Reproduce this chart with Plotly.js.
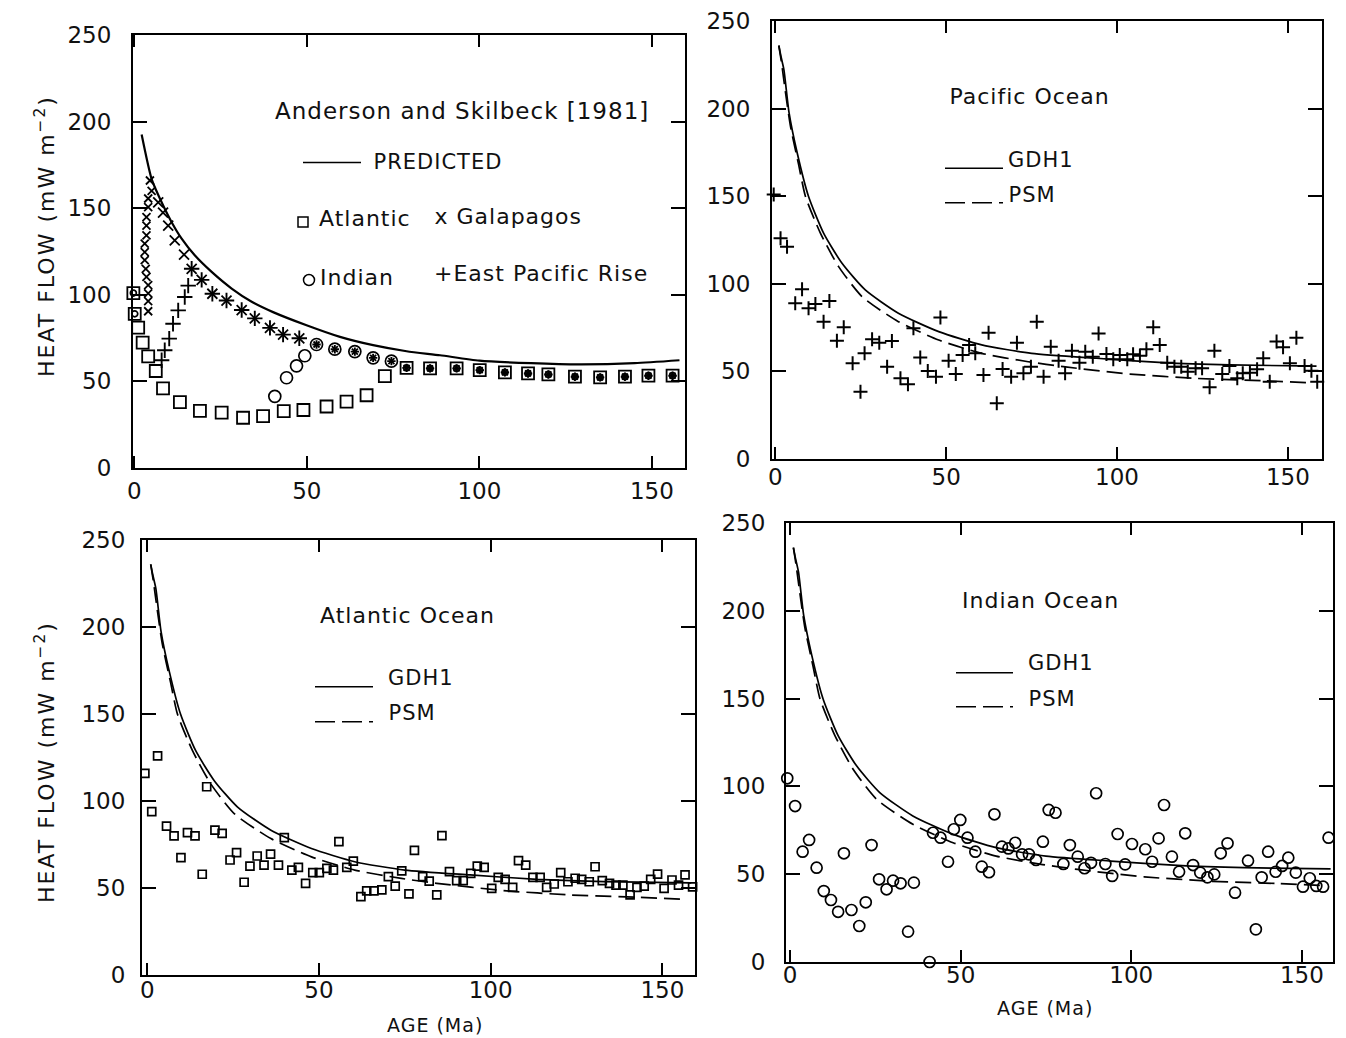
<!DOCTYPE html>
<html><head><meta charset="utf-8">
<script src="https://cdn.plot.ly/plotly-3.0.1.min.js"></script>
<style>
html,body{margin:0;padding:0;background:#fff;}
#chart{width:1346px;height:1038px;}
.annotation text{letter-spacing:1px;}
.annotation[data-index="0"] text,.annotation[data-index="1"] text{letter-spacing:2px;}
</style></head><body><div id="chart"></div><script>
// ---------------- DATA ----------------
const xTickVals = [0, 50, 100, 150];
const yTickVals = [0, 50, 100, 150, 200, 250];

// Panel 1: Anderson and Skilbeck [1981]
const predictedAge = [2.1, 5, 7.9, 10.8, 13.7, 17.5, 22.4, 28.2, 34, 40.2, 49.9, 59.6, 69.2, 78.9, 88.6, 100, 115, 129, 145, 158];
const predictedHF  = [192.5, 166.8, 153.4, 141.9, 132.4, 122.8, 113.2, 103.6, 96, 90, 82.4, 75.7, 70.9, 67.4, 65.1, 62, 60.5, 59.8, 60.5, 62.2];

const asAtlanticAge = [-1.3, -0.3, 0.1, 1.1, 2.4, 4.0, 6.2, 8.3, 13.2, 19.0, 25.3, 31.5, 37.3, 43.3, 49.0, 55.7, 61.5, 67.3, 72.6, 78.9, 85.7, 93.4, 100.1, 107.4, 114.1, 120.0, 127.7, 135.0, 142.2, 149.0, 156.0];
const asAtlanticHF  = [108, 101, 89, 81, 72.4, 64.4, 56, 46, 38, 33, 32, 29, 30, 32.8, 33.5, 35.5, 38.3, 42, 53, 57.8, 57.5, 57.5, 56.5, 55.2, 54.6, 54, 52.7, 52.3, 52.7, 53.3, 53.3];

const asIndianAge = [-1.3, -0.3, 0.1, 40.7, 44.1, 47.0, 49.4, 52.8, 58.1, 63.9, 69.2, 74.5, 78.9, 85.7, 93.4, 100.1, 107.4, 114.1, 120.0, 127.7, 135.0, 142.2, 149.0, 156.0];
const asIndianHF  = [108, 101, 89, 41.4, 52.1, 59, 64.8, 71.3, 68.6, 67.2, 63.6, 61.7, 57.8, 57.5, 57.5, 56.5, 55.2, 54.6, 54, 52.7, 52.3, 52.7, 53.3, 53.3];

const asGalapagosAge = [4.5, 5, 4, 4, 3.5, 3.5, 3.5, 3, 3, 3, 3.3, 3.5, 4, 4, 4, 4,
  6.9, 8.3, 9.8, 11.7, 14.4, 16.6, 19.5, 22.6, 26.7, 31.1, 34.9, 39.3, 43.1, 47.8,
  52.8, 58.1, 63.9, 69.2, 74.5, 78.9, 85.7, 93.4, 100.1, 107.4, 114.1, 120.0, 127.7, 135.0, 142.2, 149.0, 156.0];
const asGalapagosHF  = [166, 160, 155.6, 150.6, 144.8, 140, 134.3, 129.5, 124.7, 120, 115, 110.3, 105.6, 100.8, 96.3, 90.5,
  153.3, 147.5, 140, 131.4, 123.2, 115, 108.6, 100.6, 96.7, 91.2, 86.4, 80.9, 77, 74.9,
  71.3, 68.6, 67.2, 63.6, 61.7, 57.8, 57.5, 57.5, 56.5, 55.2, 54.6, 54, 52.7, 52.3, 52.7, 53.3, 53.3];

const asEPRAge = [7.9, 8.8, 10.1, 11.2, 12.7, 14.6, 15.6, 16.6, 19.5, 22.6, 26.7, 31.1, 34.9, 39.3, 43.1, 47.8,
  52.8, 58.1, 63.9, 69.2, 74.5, 78.9, 85.7, 93.4, 100.1, 107.4, 114.1, 120.0, 127.7, 135.0, 142.2, 149.0, 156.0];
const asEPRHF  = [62.2, 68, 74.7, 83.3, 91, 98.7, 105.3, 115, 108.6, 100.6, 96.7, 91.2, 86.4, 80.9, 77, 74.9,
  71.3, 68.6, 67.2, 63.6, 61.7, 57.8, 57.5, 57.5, 56.5, 55.2, 54.6, 54, 52.7, 52.3, 52.7, 53.3, 53.3];

// Model curves (panels 2-4)
const gdh1Age = [1, 1.6, 2.5, 4, 6.4, 9.7, 14.1, 19.5, 26.3, 36, 47.8, 60.4, 75, 94, 113.5, 133, 158.4];
const gdh1HF  = [236, 230, 222, 197.5, 174.5, 149.8, 128.9, 111.7, 96.5, 83.2, 72.7, 65.1, 60.3, 57.5, 55, 53.7, 53];
const psmAge  = [1, 1.8, 2.9, 4.4, 6.8, 8.8, 13.2, 18.5, 25.4, 36, 47.8, 60.4, 74, 84.3, 103.8, 123.3, 142.8, 156.4];
const psmHF   = [236, 226, 210, 190, 168, 149.8, 128.8, 109.8, 92.6, 78.4, 67.9, 60.3, 55.5, 52.7, 48.5, 46, 44.7, 43.5];

// Panel 2: Pacific Ocean
const pacificAge = [-0.5, 1.5, 3.4, 5.8, 7.8, 9.7, 11.7, 14.1, 15.8, 18, 20, 22.6, 24.9, 26.1, 28.3, 30.4, 32.7, 34.1, 36.6, 38.8,
  40.4, 42.4, 44.6, 47, 48.3, 50.7, 52.8, 54.8, 56.7, 58.5, 60.9, 62.4, 64.8, 66.5, 69, 70.7, 72.6, 74.8, 76.5, 78.5,
  80.6, 82.9, 84.8, 86.8, 89, 90.7, 92.9, 94.6, 96.9, 98.9, 100.8, 103, 104.7, 106.7, 108.6, 110.6, 112.5, 114.7, 116.8, 118.8,
  120.7, 123, 124.9, 127.1, 128.5, 130.8, 132.9, 135.2, 136.8, 138.9, 141, 142.8, 144.7, 146.7, 148.6, 150.6, 152.5, 154.9, 156.9, 158.6];
const pacificHF = [151, 126, 121.2, 88.9, 96.9, 86, 88.5, 78.4, 90.2, 67.5, 75.2, 54.6, 38.4, 60.3, 68.3, 66.4, 52.7, 67.4, 46.1, 42.6,
  74.6, 58, 50.2, 47, 80.7, 56.1, 48.5, 59.4, 65.1, 60.3, 47.9, 72.1, 31.8, 51.4, 47, 66.4, 48.9, 52.7, 78.4, 47,
  64.1, 56.1, 48.9, 61.8, 55, 61.2, 58.4, 71.7, 59.9, 56.9, 59.4, 56.9, 59.8, 59, 62.6, 75.2, 65.1, 55, 52.7, 52.7,
  49.8, 51.8, 51.8, 40.9, 61.8, 48.5, 53.1, 46.1, 48.9, 49.3, 51.2, 57.5, 44.1, 67, 63.8, 54.6, 69.2, 53.1, 50.4, 44.1];

// Panel 3: Atlantic Ocean
const atlanticAge = [-0.7, 1.3, 3, 5.6, 7.8, 9.8, 11.7, 13.9, 16, 17.3, 19.7, 21.8, 24.1, 26, 28.2, 29.9, 32, 34, 35.9, 38.2,
  39.9, 42.1, 44, 46.1, 48.2, 50.1, 52.3, 54.2, 55.8, 58.1, 60, 62.2, 63.9, 66, 68.3, 70.2, 72.2, 74.1, 76.2, 77.8,
  80.2, 82.1, 84.3, 85.8, 88, 90.1, 92, 94.2, 96.1, 98.1, 100.3, 102.2, 104.2, 106.4, 108.1, 110.2, 112.3, 114.4, 116.3, 118.5,
  120.4, 122.5, 124.6, 126.5, 128.7, 130.4, 132.5, 134.6, 136.5, 138.5, 140.6, 142.6, 144.7, 146.6, 148.6, 150.5, 152.8, 154.7, 156.6, 158.8];
const atlanticHF = [115.9, 93.9, 125.9, 85.6, 79.9, 67.4, 81.8, 79.9, 57.9, 108.2, 83.3, 81.4, 66.1, 70.3, 53.3, 62.6, 68.4, 63.2, 69.5, 63.2,
  78.9, 60.3, 61.9, 52.7, 58.8, 58.8, 61.3, 60.3, 76.6, 61.9, 65.5, 45, 48.3, 48.3, 48.9, 56.5, 51.1, 59.8, 46.6, 71.6,
  56.5, 54, 46, 80.1, 59.4, 54.2, 54.2, 58.4, 62.6, 61.9, 49.8, 56.1, 55, 50.4, 65.7, 63.2, 56.1, 56.1, 50.4, 52.3,
  58.8, 53.6, 55.6, 55, 53.6, 62.2, 54.2, 52.7, 51.7, 51.7, 46, 50.4, 51.1, 55, 58, 49.8, 54.6, 51.7, 57.5, 50.7];

// Panel 4: Indian Ocean
const indianAge = [-0.8, 1.5, 3.7, 5.6, 7.8, 9.9, 12, 14.1, 15.8, 18, 20.3, 22.2, 23.9, 26.1, 28.3, 30.2, 32.4, 34.6, 36.3, 40.9,
  41.9, 44.1, 46.3, 48, 49.9, 52, 54.3, 56.2, 58.3, 59.9, 62.1, 64, 66, 68, 70, 72.1, 74.1, 75.8, 77.8,
  80.1, 82, 84.3, 86.3, 88.2, 89.7, 92.4, 94.4, 96, 98.2, 100.2, 104.1, 106.1, 108, 109.6, 111.9, 114, 115.8, 118.1, 120.2,
  122.3, 124.3, 126.2, 128.2, 130.4, 134.2, 136.5, 138.2, 140.1, 142.3, 144.2, 146, 148.2, 150.3, 152.3, 154.2, 156.2, 157.8];
const indianHF = [104.6, 88.8, 62.8, 69.5, 53.7, 40.4, 35.3, 28.6, 61.9, 29.6, 20.5, 34, 66.6, 47.1, 41.4, 46.3, 44.8, 17.3, 45.2, 0,
  73.6, 70.8, 57.1, 75.6, 80.9, 70.8, 62.8, 54.3, 51.1, 84.1, 65.7, 64.7, 67.9, 61.3, 61.3, 58.1, 68.5, 86.6, 85,
  55.8, 66.6, 60, 53.4, 56.5, 96.1, 55.8, 49, 72.9, 55.6, 67.2, 64.2, 57.1, 70.4, 89.4, 60, 51.4, 73.3, 55.2, 50.9,
  48.2, 49.9, 61.9, 67.6, 39.5, 57.7, 18.6, 48.2, 62.8, 51.4, 54.7, 59.4, 50.9, 42.9, 47.7, 43.3, 42.9, 70.8];

// ---------------- LAYOUT HELPERS ----------------
const W = 1346, H = 1038;
const FONT = 'DejaVu Sans';
const frames = [
  {l:133, r:685,  t:35,  b:468, xr:[-0.4, 159.6], xs:1,  ys:15},
  {l:772, r:1322, t:21,  b:459, xr:[-1, 160],     xs:-4, ys:15},
  {l:142, r:695,  t:540, b:975, xr:[-1.54, 159.5], xs:-7, ys:10},
  {l:786, r:1333, t:523, b:962, xr:[-1.17, 159.1], xs:-9, ys:14}
];
const layout = {
  width: W, height: H, margin: {l:0, r:0, t:0, b:0},
  paper_bgcolor: '#fff', plot_bgcolor: '#fff', showlegend: false,
  font: {family: FONT, color: '#111'},
  annotations: [], shapes: []
};
frames.forEach((f, i) => {
  const n = i === 0 ? '' : String(i + 1);
  const common = {showline:true, linecolor:'#000', linewidth:2, mirror:'ticks', ticks:'inside',
    tickwidth:2, tickcolor:'#000', showgrid:false, zeroline:false, fixedrange:true,
    tickfont:{family:FONT, size:23, color:'#111'}};
  layout['xaxis' + n] = Object.assign({}, common, {domain:[f.l / W, f.r / W], range:f.xr,
    anchor:'y' + n, tickvals:xTickVals, ticklen:12, ticklabelstandoff:f.xs});
  layout['yaxis' + n] = Object.assign({}, common, {domain:[1 - f.b / H, 1 - f.t / H], range:[0, 250],
    anchor:'x' + n, tickvals:yTickVals, ticklen:14, ticklabelstandoff:f.ys});
});
function ann(text, x, y, size, opts) {
  layout.annotations.push(Object.assign({text:text, x:x / W, y:1 - y / H, xref:'paper', yref:'paper',
    showarrow:false, xanchor:'left', yanchor:'middle', font:{family:FONT, size:size, color:'#111'}}, opts || {}));
}
function hline(x0, x1, y, dash) {
  layout.shapes.push({type:'line', xref:'paper', yref:'paper', x0:x0 / W, x1:x1 / W, y0:1 - y / H, y1:1 - y / H,
    line:{color:'#000', width:1.6, dash:dash || 'solid'}});
}
// y titles first (index 0,1)
ann('HEAT FLOW (mW m<sup>−2</sup>)', 45, 236, 22, {xanchor:'center', textangle:-90});
ann('HEAT FLOW (mW m<sup>−2</sup>)', 45, 762, 22, {xanchor:'center', textangle:-90});
// panel 1
ann('Anderson and Skilbeck [1981]', 462, 110.7, 23, {xanchor:'center'});
ann('PREDICTED', 376, 161.7, 21);
ann('Atlantic', 321, 218, 22);
ann('x Galapagos', 438, 216, 22);
ann('Indian', 321, 277, 22);
ann('+East Pacific Rise', 441, 274, 22);
hline(303, 361, 162.5);
layout.shapes.push({type:'rect', xref:'paper', yref:'paper', x0:298 / W, x1:308 / W, y0:1 - 227 / H, y1:1 - 217 / H, line:{color:'#000', width:1.5}});
layout.shapes.push({type:'circle', xref:'paper', yref:'paper', x0:303.5 / W, x1:314.5 / W, y0:1 - 285.5 / H, y1:1 - 274.5 / H, line:{color:'#000', width:1.5}});
// panel 2
ann('Pacific Ocean', 954, 96.7, 22);
ann('GDH1', 1008, 160, 21); ann('PSM', 1008, 195, 21);
hline(945, 1003, 168.3); hline(945, 1003, 202.7, '20px,7px');
// panel 3
ann('Atlantic Ocean', 325, 615, 22);
ann('GDH1', 388, 678, 21); ann('PSM', 388, 713, 21);
hline(315, 373, 686.7); hline(315, 373, 721.7, '20px,7px');
// panel 4
ann('Indian Ocean', 966, 600, 22);
ann('GDH1', 1028, 663, 21); ann('PSM', 1028, 699, 21);
hline(956, 1013, 672.7); hline(956, 1013, 706.7, '20px,7px');
// x titles
ann('AGE (Ma)', 435, 1025, 19, {xanchor:'center'});
ann('AGE (Ma)', 1045, 1008, 19, {xanchor:'center'});

// ---------------- TRACES ----------------
function pts(x, y, ax, symbol, size, lw) {
  return {type:'scatter', mode:'markers', x:x, y:y, xaxis:'x' + ax, yaxis:'y' + ax, cliponaxis:false,
    hoverinfo:'skip', marker:{symbol:symbol, size:size, opacity:1, color:'#000', line:{color:'#000', width:lw}}};
}
function curve(x, y, ax, dash, w) {
  return {type:'scatter', mode:'lines', x:x, y:y, xaxis:'x' + ax, yaxis:'y' + ax, hoverinfo:'skip',
    line:{color:'#000', width:w, dash:dash, shape:'spline', smoothing:0.6}};
}
const sizeBy = (arr, fn) => arr.map(fn);
const traces = [
  curve(predictedAge, predictedHF, '', 'solid', 2.2),
  pts(asAtlanticAge, asAtlanticHF, '', 'square-open', 12, 1.8),
  pts(asIndianAge, asIndianHF, '', 'circle-open', sizeBy(asIndianAge, a => (a < 2 || a > 76) ? 6 : 12), 1.7),
  pts(asGalapagosAge, asGalapagosHF, '', 'x-thin-open', sizeBy(asGalapagosAge, a => a > 50 ? 6 : (a < 5.5 ? 8 : 10)), 1.8),
  pts(asEPRAge, asEPRHF, '', 'cross-thin-open', sizeBy(asEPRAge, a => a > 50 ? 6 : 11), 1.9),

  curve(gdh1Age, gdh1HF, '2', 'solid', 1.7),
  curve(psmAge, psmHF, '2', '16px,7px', 1.7),
  pts(pacificAge, pacificHF, '2', 'cross-thin-open', 10, 2),

  curve(gdh1Age, gdh1HF, '3', 'solid', 1.7),
  curve(psmAge, psmHF, '3', '16px,7px', 1.7),
  pts(atlanticAge, atlanticHF, '3', 'square-open', 8, 1.7),

  curve(gdh1Age, gdh1HF, '4', 'solid', 1.7),
  curve(psmAge, psmHF, '4', '16px,7px', 1.7),
  pts(indianAge, indianHF, '4', 'circle-open', 11, 1.7)
];
Plotly.newPlot('chart', traces, layout, {staticPlot:true, displayModeBar:false});
</script></body></html>
